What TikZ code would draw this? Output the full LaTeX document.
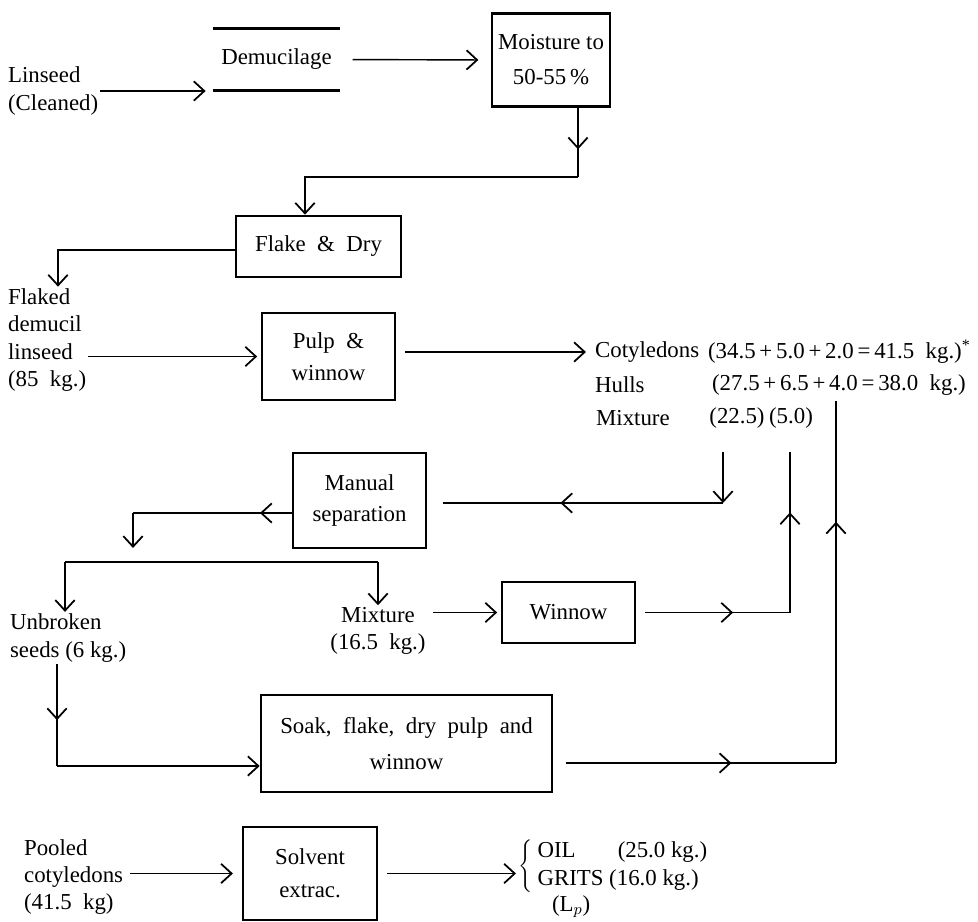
\documentclass[tikz,border=0pt]{standalone}
\usepackage{fontspec}
\setmainfont{Liberation Serif}
\usetikzlibrary{arrows.meta,decorations.markings}

\begin{document}
\begin{tikzpicture}[x=0.02cm,y=-0.02cm,
                        >={Straight Barb[length=6pt,width=11pt,line width=1pt]},
                        every node/.style={font=\fontsize{13}{15.5}\selectfont, inner sep=1pt},
                        box/.style={draw, line width=1.5pt, align=center, font=\fontsize{13}{18}\selectfont},
                        txt/.style={align=left, anchor=west},
                        flow/.style={line width=0.8pt},
                        mid/.style={postaction={decorate,decoration={markings,mark=at position #1 with {\arrow{>}}}}}]
                        \useasboundingbox (0,0) rectangle (978,921);

                        \node[txt] (lin) at (6,91) {Linseed\\(Cleaned)};
                        \node[align=center, minimum width=2.54cm, minimum height=1.22cm] (dem) at (276.5,59.5) {Demucilage};
                        \node[box, minimum width=2.36cm, minimum height=1.86cm, font=\fontsize{13}{20}\selectfont] (moist) at (551,60) {Moisture to\\50-55\,\%};
                        \node[box, minimum width=3.3cm, minimum height=1.22cm] (flake) at (318.5,246.5) {Flake \ \& \ Dry};
                        \node[txt] (flaked) at (6,340) {Flaked\\demucil\\linseed\\(85 \ kg.)};
                        \node[box, minimum width=2.66cm, minimum height=1.74cm] (pulp) at (328.5,356.5) {Pulp \ \&\\winnow};
                        \node[txt] (cot) at (593,352) {Cotyledons};
                        \node[txt] (cotv) at (706,352) {(34.5\,+\,5.0\,+\,2.0\,=\,41.5 \ kg.)\textsuperscript{*}};
                        \node[txt] (hul) at (593,385) {Hulls};
                        \node[txt] (hulv) at (710,385) {(27.5\,+\,6.5\,+\,4.0\,=\,38.0 \ kg.)};
                        \node[txt] (mix) at (594,418) {Mixture};
                        \node (mixa) at (737,418) {(22.5)};
                        \node (mixb) at (791,418) {(5.0)};
                        \node[box, minimum width=2.66cm, minimum height=1.9cm] (manual) at (359.5,500.5) {Manual\\separation};
                        \node[txt] (unb) at (8,638) {Unbroken\\seeds (6 kg.)};
                        \node[align=center] (mix2) at (378,631) {Mixture\\(16.5 \ kg.)};
                        \node[box, minimum width=2.66cm, minimum height=1.22cm] (winnow) at (568.5,612.5) {Winnow};
                        \node[box, minimum width=5.82cm, minimum height=1.94cm, font=\fontsize{13}{20}\selectfont] (soak) at (406.5,743.5) {Soak, \ flake, \ dry \ pulp \ and\\winnow};
                        \node[txt] (pool) at (22,877) {Pooled\\cotyledons\\(41.5 \ kg)};
                        \node[box, minimum width=2.68cm, minimum height=1.86cm, font=\fontsize{13}{19}\selectfont] (solv) at (310,873.5) {Solvent\\extrac.};
                        \node[anchor=west] (prod) at (516,866) {$\left\{\begin{tabular}{@{\hspace{3pt}}l@{}}OIL\hspace{24pt}(25.0 kg.)\\GRITS (16.0 kg.)\end{tabular}\right.$};
                        \node[txt] (lp) at (550,907) {(L$_p$)};

                        \coordinate (m1) at (578,177);
                        \coordinate (m2) at (305,177);
                        \coordinate (f1) at (58,250);
                        \coordinate (j1) at (723,503);
                        \coordinate (k1) at (133,513);
                        \coordinate (k2) at (65,562);
                        \coordinate (k3) at (378,562);
                        \coordinate (w1) at (790,612.5);
                        \coordinate (u1) at (57,766);
                        \coordinate (h1) at (836,763);

                        \draw[line width=1.5pt] (dem.north west) -- (dem.north east)
                            (dem.south west) -- (dem.south east);
                        \draw[flow,->,shorten >=4pt] (lin.east) -- (lin.east -| dem.west);
                        \draw[flow,->,shorten <=7pt,shorten >=7pt] (dem.east) -- (moist.west);
                        \draw[flow,mid=0.6] (moist.south -| m1) -- (m1);
                        \draw[flow,->] (m1) -- (m2) -- (m2 |- flake.north);
                        \draw[flow,->] (flake.west |- f1) -- (f1) -- (f1 |- flaked.north);
                        \draw[flow,->,shorten >=2pt] (flaked.east |- pulp.west) -- (pulp.west);
                        \draw[flow,->,shorten <=5pt,shorten >=4pt] (pulp.east |- cot.west) -- (cot.west);
                        \draw[flow,->,shorten <=12pt] (j1 |- mixa.south) -- (j1);
                        \draw[flow,mid=0.55,shorten >=9pt] (j1) -- (j1 -| manual.east);
                        \draw[flow,mid=0.2] (k1 -| manual.west) -- (k1);
                        \draw[flow,->,shorten >=8pt] (k1) -- (k1 |- k2);
                        \draw[flow] (k2) -- (k3);
                        \draw[flow,->] (k2) -- (k2 |- unb.north);
                        \draw[flow,->] (k3) -- (mix2.north);
                        \draw[flow,->,shorten <=3pt,shorten >=2pt] (mix2.east |- winnow.west) -- (winnow.west);
                        \draw[flow,mid=0.63,shorten <=5pt] (winnow.east) -- (w1);
                        \draw[flow,mid=0.55,shorten >=12pt] (w1) -- (w1 |- mixb.south);
                        \draw[flow,mid=0.55] (unb.south -| u1) -- (u1);
                        \draw[flow,->] (u1) -- (u1 -| soak.west);
                        \draw[flow,mid=0.63,shorten <=7pt] (soak.east |- h1) -- (h1);
                        \draw[flow,mid=0.66,shorten >=2pt] (h1) -- (h1 |- hulv.south);
                        \draw[flow,->,shorten <=3pt,shorten >=5pt] (pool.east |- solv.west) -- (solv.west);
                        \draw[flow,->,shorten <=5pt] (solv.east) -- (solv.east -| prod.west);
                    \end{tikzpicture}
\end{document}
